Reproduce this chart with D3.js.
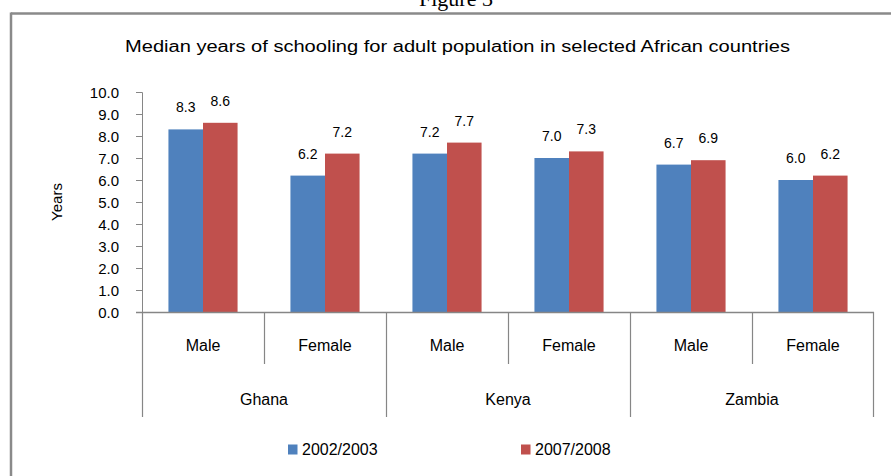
<!DOCTYPE html>
<html>
<head>
<meta charset="utf-8">
<script src="https://cdn.jsdelivr.net/npm/d3@7"></script>
<style>
html,body{margin:0;padding:0;background:#fff;}
svg{display:block;}
text{font-family:"Liberation Sans",Arial,sans-serif;fill:#000;}
</style>
</head>
<body>
<svg id="chart" width="891" height="476"></svg>
<script>
const countries = ["Ghana", "Kenya", "Zambia"];
const sexes = ["Male", "Female"];
const seriesNames = ["2002/2003", "2007/2008"];
const values2002 = [8.3, 6.2, 7.2, 7.0, 6.7, 6.0];
const values2007 = [8.6, 7.2, 7.7, 7.3, 6.9, 6.2];
const yTicks = [0, 1, 2, 3, 4, 5, 6, 7, 8, 9, 10];
const colors = ["#4F81BD", "#C0504D"];
const title = "Median years of schooling  for adult population in selected African countries";
const yLabel = "Years";
const figureLabel = "Figure 3";

(function () {
const svg = d3.select("#chart");
const axisColor = "#868686";

// outer frame (partially visible)
svg.append("line").attr("x1", 11).attr("x2", 891).attr("y1", 13.5).attr("y2", 13.5)
  .attr("stroke", "#8a8a8a").attr("stroke-width", 2.5);
svg.append("line").attr("x1", 11).attr("x2", 11).attr("y1", 12.5).attr("y2", 476)
  .attr("stroke", "#8a8a8a").attr("stroke-width", 2.5);

svg.append("text").attr("x", 456).attr("y", 6).attr("text-anchor", "middle")
  .style("font-family", "'Liberation Serif','Times New Roman',serif").style("font-size", "22px")
  .text(figureLabel);

const mLeft = 142, mRight = 874, mTop = 92, mBottom = 312;

const cats = [];
countries.forEach(c => sexes.forEach(s => cats.push(c + "|" + s)));
const rows = cats.map((k, i) => ({key: k, country: k.split("|")[0], sex: k.split("|")[1], vals: [values2002[i], values2007[i]]}));

const x0 = d3.scaleBand().domain(cats).range([mLeft, mRight]).paddingInner(0).paddingOuter(0);
const x1 = d3.scaleBand().domain(seriesNames).range([0, x0.bandwidth()]).paddingInner(0).paddingOuter(0.765);
const y = d3.scaleLinear().domain([0, 10]).range([mBottom, mTop]);

// title
svg.append("text").attr("x", 125).attr("y", 52)
  .attr("textLength", 665).attr("lengthAdjust", "spacingAndGlyphs")
  .style("font-size", "16px").text(title);

// y axis
const yAxis = svg.append("g").attr("transform", `translate(${mLeft},0)`)
  .call(d3.axisLeft(y).tickValues(yTicks).tickFormat(d3.format(".1f")).tickSizeOuter(0).tickSize(6));
yAxis.select(".domain").attr("stroke", axisColor);
yAxis.selectAll(".tick line").attr("stroke", axisColor);
yAxis.selectAll(".tick text").attr("x", -23).attr("dy", "0.35em").style("font-size", "15px")
  .style("font-family", "'Liberation Sans',Arial,sans-serif").attr("fill", "#000");

svg.append("text").attr("transform", `translate(62,${(mTop + mBottom) / 2}) rotate(-90)`)
  .attr("text-anchor", "middle").style("font-size", "15px").text(yLabel);

// bars
const g = svg.append("g");
rows.forEach(r => {
  const gg = g.append("g").attr("transform", `translate(${x0(r.key)},0)`);
  gg.selectAll("rect").data(r.vals).join("rect")
    .attr("x", (d, i) => x1(seriesNames[i]))
    .attr("width", x1.bandwidth())
    .attr("y", d => y(d))
    .attr("height", d => y(0) - y(d))
    .attr("fill", (d, i) => colors[i]);
  gg.selectAll("text.val").data(r.vals).join("text").attr("class", "val")
    .attr("x", (d, i) => x1(seriesNames[i]) + x1.bandwidth() / 2)
    .attr("y", d => y(d) - 17)
    .attr("text-anchor", "middle").style("font-size", "14px")
    .text(d => d3.format(".1f")(d));
});

// x axis baseline
svg.append("line").attr("x1", mLeft - 6).attr("x2", mRight).attr("y1", mBottom + 0.5).attr("y2", mBottom + 0.5)
  .attr("stroke", axisColor).attr("stroke-width", 1.5);

// separators
const innerBottom = 364, outerBottom = 417;
cats.forEach((k, i) => {
  const xx = Math.round(x0(k)) + 0.5;
  const isCountryStart = k.endsWith("|Male");
  svg.append("line").attr("x1", xx).attr("x2", xx).attr("y1", mBottom).attr("y2", isCountryStart ? outerBottom : innerBottom)
    .attr("stroke", axisColor).attr("stroke-width", 1.2);
});
svg.append("line").attr("x1", mRight - 0.5).attr("x2", mRight - 0.5).attr("y1", mBottom).attr("y2", outerBottom)
  .attr("stroke", axisColor).attr("stroke-width", 1.2);

// sex labels
rows.forEach(r => {
  svg.append("text").attr("x", x0(r.key) + x0.bandwidth() / 2).attr("y", 351)
    .attr("text-anchor", "middle").style("font-size", "16px").text(r.sex);
});
// country labels
countries.forEach(c => {
  const a = x0(c + "|" + sexes[0]);
  const b = x0(c + "|" + sexes[sexes.length - 1]) + x0.bandwidth();
  svg.append("text").attr("x", (a + b) / 2).attr("y", 405)
    .attr("text-anchor", "middle").style("font-size", "16px").text(c);
});

// legend
const legendX = [288, 521];
seriesNames.forEach((s, i) => {
  svg.append("rect").attr("x", legendX[i]).attr("y", 444.5).attr("width", 9.5).attr("height", 10)
    .attr("fill", colors[i]);
  svg.append("text").attr("x", legendX[i] + 14).attr("y", 455).style("font-size", "16px").text(s);
});
})();
</script>
</body>
</html>
